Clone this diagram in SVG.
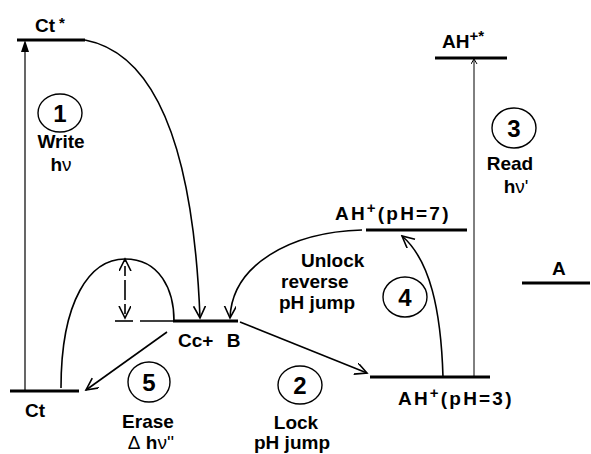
<svg xmlns="http://www.w3.org/2000/svg" width="591" height="454" viewBox="0 0 591 454">
<defs>
<marker id="open" markerWidth="14" markerHeight="14" refX="12" refY="6" orient="auto" markerUnits="userSpaceOnUse">
<path d="M0,0 L12,6 L0,12" fill="none" stroke="#000" stroke-width="1.6"/>
</marker>
<marker id="small" markerWidth="8" markerHeight="8" refX="5" refY="3" orient="auto" markerUnits="userSpaceOnUse">
<path d="M0,0 L5,3 L0,6" fill="none" stroke="#000" stroke-width="1"/>
</marker>
</defs>
<style>
text{font-family:"Liberation Sans",Arial,sans-serif;font-weight:bold;fill:#000}
.lbl{font-size:19px}
.num{font-size:24px;text-anchor:middle}
.c{text-anchor:middle}
.thin{font-weight:normal}
.lvl{stroke:#000;stroke-width:3.2;fill:none}
.conn{stroke:#000;stroke-width:1.6;fill:none}
.circ{stroke:#000;stroke-width:1.4;fill:none}
</style>
<rect width="591" height="454" fill="#fff"/>

<g id="level-ctstar">
<line class="lvl" x1="17" y1="40" x2="85" y2="40"/>
<text class="lbl" x="35" y="32">Ct<tspan font-size="15" dx="4" dy="-4">*</tspan></text>
</g>
<g id="level-ct">
<line class="lvl" x1="10" y1="391" x2="79" y2="391"/>
<text class="lbl" x="25" y="417">Ct</text>
</g>
<g id="level-ccb">
<line stroke="#000" stroke-width="1.6" x1="115" y1="321" x2="133" y2="321"/>
<line stroke="#000" stroke-width="1.6" x1="140" y1="321" x2="173" y2="321"/>
<line class="lvl" x1="173" y1="321" x2="238" y2="321"/>
<text class="lbl" x="178" y="347" word-spacing="8">Cc+ B</text>
</g>
<g id="level-ahstar">
<line class="lvl" x1="435" y1="58" x2="507" y2="58"/>
<text class="lbl" x="442" y="48">AH<tspan font-size="15" dy="-7">+*</tspan></text>
</g>
<g id="level-ah7">
<line class="lvl" x1="366" y1="230" x2="467" y2="230"/>
<text class="lbl" x="335" y="220" letter-spacing="2.2">AH<tspan font-size="15" dy="-7">+</tspan><tspan dy="7">(pH=7)</tspan></text>
</g>
<g id="level-ah3">
<line class="lvl" x1="370" y1="377" x2="490" y2="377"/>
<text class="lbl" x="398" y="405" letter-spacing="2.2">AH<tspan font-size="15" dy="-7">+</tspan><tspan dy="7">(pH=3)</tspan></text>
</g>
<g id="level-a">
<line class="lvl" x1="522" y1="283" x2="590" y2="283"/>
<text class="lbl" x="552" y="275">A</text>
</g>

<g id="step1">
<ellipse class="circ" cx="60" cy="113" rx="22" ry="19"/>
<text class="num" x="60" y="122">1</text>
<text class="lbl c" x="61" y="148">Write</text>
<text class="lbl c" x="61" y="171">h<tspan class="thin">ν</tspan></text>
</g>
<g id="step2">
<ellipse class="circ" cx="300" cy="385" rx="22" ry="19"/>
<text class="num" x="300" y="394">2</text>
<text class="lbl c" x="296" y="429">Lock</text>
<text class="lbl c" x="292" y="449">pH jump</text>
</g>
<g id="step3">
<ellipse class="circ" cx="514" cy="128" rx="22" ry="20"/>
<text class="num" x="514" y="137">3</text>
<text class="lbl c" x="510" y="170">Read</text>
<text class="lbl c" x="516" y="193">h<tspan class="thin">ν'</tspan></text>
</g>
<g id="step4">
<ellipse class="circ" cx="405" cy="297" rx="22" ry="20"/>
<text class="num" x="405" y="306">4</text>
<text class="lbl" x="301" y="267">Unlock</text>
<text class="lbl" x="281" y="288">reverse</text>
<text class="lbl" x="279" y="309">pH jump</text>
</g>
<g id="step5">
<ellipse class="circ" cx="149" cy="382" rx="21" ry="20"/>
<text class="num" x="149" y="391">5</text>
<text class="lbl c" x="148" y="428">Erase</text>
<text class="lbl c" x="151" y="449"><tspan class="thin">Δ</tspan> h<tspan class="thin">ν''</tspan></text>
</g>

<g id="connectors">
<line stroke="#000" stroke-width="1.2" x1="25" y1="391" x2="25" y2="50"/>
<path d="M25,40 L21,52 L29,52 Z" fill="#000"/>
<path class="conn" d="M85,40 Q190,60 200,318" marker-end="url(#open)"/>
<path class="conn" d="M61,388 C61,300 90,259 125,259 C160,259 174,290 174,321"/>
<line class="conn" x1="125" y1="290" x2="125" y2="259" stroke-dasharray="10,4" marker-end="url(#open)"/>
<line class="conn" x1="125" y1="290" x2="125" y2="318" stroke-dasharray="10,4" marker-end="url(#open)"/>
<line class="conn" x1="167" y1="332" x2="86" y2="390" marker-end="url(#open)"/>
<line class="conn" x1="240" y1="322" x2="367" y2="373" marker-end="url(#open)"/>
<path class="conn" d="M362,230 C290,232 232,265 230,318" marker-end="url(#open)"/>
<path class="conn" d="M443,377 C441,310 430,260 402,236" marker-end="url(#open)"/>
<line stroke="#000" stroke-width="1" x1="474" y1="377" x2="474" y2="59" marker-end="url(#small)"/>
</g>
</svg>
